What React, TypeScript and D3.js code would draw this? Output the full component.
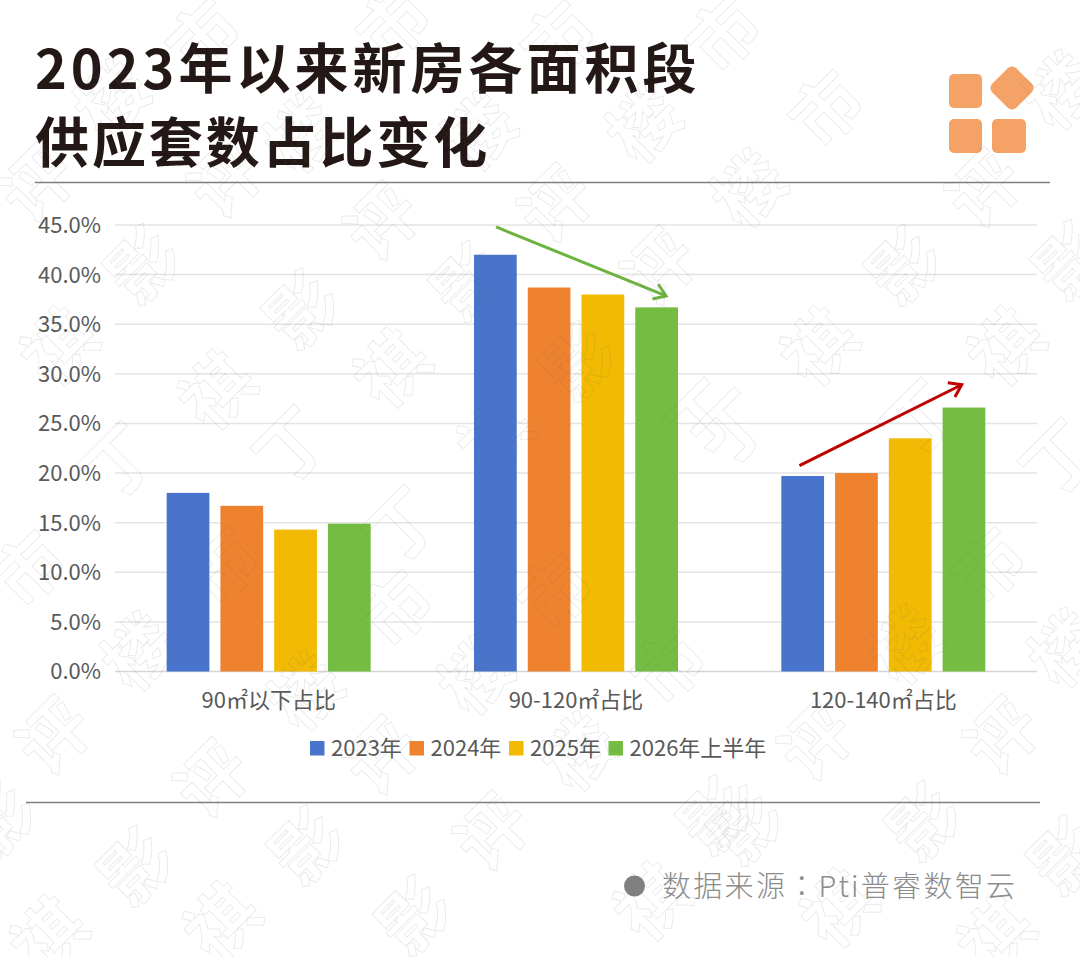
import React from "react";
import * as d3 from "d3";

const titleLines = ["2023年以来新房各面积段", "供应套数占比变化"];
const categories = ["90㎡以下占比", "90-120㎡占比", "120-140㎡占比"];
const years = ["2023年", "2024年", "2025年", "2026年上半年"];
const colors = ["#4874cb", "#ee822f", "#f2ba02", "#75bd42"];
const v2023 = [18.0, 42.0, 19.7];
const v2024 = [16.7, 38.7, 20.0];
const v2025 = [14.3, 38.0, 23.5];
const v2026 = [14.9, 36.7, 26.6];
const seriesValues = [v2023, v2024, v2025, v2026];
const yTicks = [0, 5, 10, 15, 20, 25, 30, 35, 40, 45];

// trend arrows, in category-index and percentage units
const greenArrow = [[0.74, 44.8], [1.293, 37.85]];
const redArrow = [[1.727, 20.74], [2.255, 28.9]];

const wmShi = [[205, 38], [395, 25], [560, 40], [725, 35], [828, 110], [30, 570], [223, 567], [397, 610], [557, 593], [670, 667], [990, 567]];
const wmLou = [[113, 100], [303, 135], [480, 133], [645, 125], [750, 190], [1062, 92], [140, 653], [307, 693], [477, 677], [580, 753], [907, 647], [1067, 650]];
const wmPing = [[38, 185], [227, 180], [383, 223], [557, 205], [660, 268], [985, 190], [55, 737], [213, 780], [383, 757], [493, 833], [817, 743], [1003, 737]];
const wmYing = [[144, 266], [303, 311], [470, 283], [580, 363], [905, 267], [1072, 262], [137, 868], [308, 847], [415, 917], [0, 820], [717, 817], [747, 827], [925, 823], [1067, 857]];
const wmQi = [[60, 348], [218, 392], [393, 370], [497, 437], [820, 348], [1007, 348], [50, 937], [223, 923], [653, 903], [840, 910], [997, 937]];
const wmDing = [[120, 463], [293, 447], [403, 527], [703, 420], [733, 430], [920, 420], [1060, 460]];
const watermarks: [string, number[][]][] = [["市", wmShi], ["楼", wmLou], ["评", wmPing], ["影", wmYing], ["祺", wmQi], ["丁", wmDing]];

const W = 1080, H = 957;
const CJK = "'Noto Sans CJK SC', 'Noto Sans', sans-serif";
const titleSpacing = [4.0, 2.9];

const x0 = d3.scaleBand<string>().domain(categories).range([115, 1037]);
const xIdx = d3.scaleLinear().domain([0, 2]).range([x0(categories[0])! + x0.bandwidth() / 2, x0(categories[2])! + x0.bandwidth() / 2]);
const x1 = d3.scaleBand<string>().domain(years).range([-102, 102]).paddingInner(0.205);
const y = d3.scaleLinear().domain([0, 45]).range([671.5, 225]);
const legendX = d3.scalePoint<string>().domain(years).range([310, 608.5]);
const line = d3.line<number[]>().x(d => xIdx(d[0])).y(d => y(d[1]));

function arrowHead(pts: number[][], size: number) {
  const [a, b] = pts;
  const ax = xIdx(a[0]), ay = y(a[1]), bx = xIdx(b[0]), by = y(b[1]);
  const t = Math.atan2(by - ay, bx - ax);
  const p = (ang: number) => `${bx - size * Math.cos(t + ang)},${by - size * Math.sin(t + ang)}`;
  return `M${p(0.6)}L${bx},${by}L${p(-0.6)}`;
}

export default function App() {
  return (
    <svg width={W} height={H} viewBox={`0 0 ${W} ${H}`} style={{ position: "absolute", left: 0, top: 0, display: "block", background: "#fff" }} fontFamily={CJK}>
      {titleLines.map((t, i) => (
        <text key={t} x={35} y={89 + i * 74} fontSize={54} fontWeight={700} letterSpacing={titleSpacing[i]} fill="#231815">{t}</text>
      ))}
      <g fill="#f4a266">
        <rect x={949} y={74} width={33} height={34} rx={5} />
        <rect x={949} y={119} width={33} height={34} rx={5} />
        <rect x={992} y={119} width={34} height={34} rx={5} />
        <rect x={995} y={71} width={34} height={34} rx={6} transform="rotate(45 1012 88)" />
      </g>
      <line x1={35} x2={1050} y1={182.5} y2={182.5} stroke="#7f7f7f" strokeWidth={1.4} />
      <line x1={26} x2={1040} y1={802.5} y2={802.5} stroke="#7f7f7f" strokeWidth={1.4} />

      {yTicks.map(t => (
        <g key={t}>
          <line x1={115} x2={1037} y1={y(t)} y2={y(t)} stroke={t === 0 ? "#d6d6d6" : "#e4e4e4"} strokeWidth={1.5} />
          <text x={101} y={y(t)} dy="0.36em" textAnchor="end" fontSize={22} fill="#595959">{t.toFixed(1)}%</text>
        </g>
      ))}

      {categories.map((c, ci) => (
        <g key={c} transform={`translate(${xIdx(ci)},0)`}>
          {years.map((yr, si) => (
            <rect key={yr} x={x1(yr)!} y={y(seriesValues[si][ci])} width={x1.bandwidth()} height={y(0) - y(seriesValues[si][ci])} fill={colors[si]} />
          ))}
          <text x={0} y={708} textAnchor="middle" fontSize={22} fill="#595959">{c}</text>
        </g>
      ))}

      <path d={line(greenArrow)!} fill="none" stroke="#6cb33f" strokeWidth={3} />
      <path d={arrowHead(greenArrow, 14)} fill="none" stroke="#6cb33f" strokeWidth={3} />
      <path d={line(redArrow)!} fill="none" stroke="#c00000" strokeWidth={3} />
      <path d={arrowHead(redArrow, 14)} fill="none" stroke="#c00000" strokeWidth={3} />

      {years.map((yr, i) => (
        <g key={yr} transform={`translate(${legendX(yr)},0)`}>
          <rect x={0} y={741} width={14.5} height={14.5} fill={colors[i]} />
          <text x={21} y={756} fontSize={22} fill="#595959">{yr}</text>
        </g>
      ))}

      <circle cx={634.5} cy={886} r={10.5} fill="#808080" />
      <text x={662} y={897} fontSize={29} fontWeight={300} letterSpacing={2.3} fill="#8c8c8c">
        数据来源<tspan fontFamily="'Noto Sans CJK TC'">：</tspan>Pti普睿数智云
      </text>

      <g fill="none" stroke="#6e6e6e" strokeOpacity={0.15} strokeWidth={0.9} fontSize={70} fontWeight={700} textAnchor="middle">
        {watermarks.flatMap(([ch, pts]) =>
          pts.map(([px, py]) => (
            <text key={`${ch}${px}-${py}`} x={0} y={0} dy="0.35em" transform={`translate(${px},${py}) rotate(-45)`}>{ch}</text>
          ))
        )}
      </g>
    </svg>
  );
}
